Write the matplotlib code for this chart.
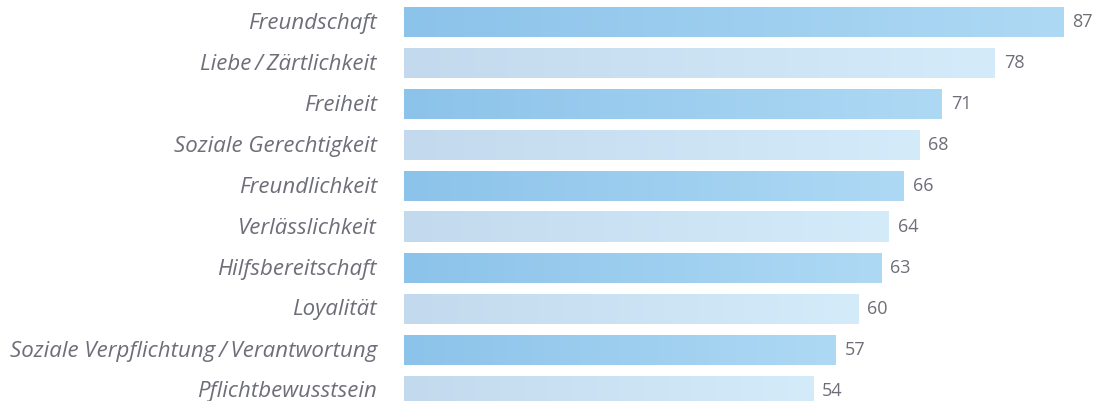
import numpy as np
import matplotlib
from matplotlib import pyplot as plt
from matplotlib.colors import LinearSegmentedColormap

labels = ['Freundschaft', 'Liebe\u2009/\u2009Zärtlichkeit', 'Freiheit', 'Soziale Gerechtigkeit',
          'Freundlichkeit', 'Verlässlichkeit', 'Hilfsbereitschaft', 'Loyalität',
          'Soziale Verpflichtung\u2009/\u2009Verantwortung', 'Pflichtbewusstsein']
values = [87, 78, 71, 68, 66, 64, 63, 60, 57, 54]

text_color = '#6d6e78'
dark = LinearSegmentedColormap.from_list('dark', ['#8cc3ea', '#aed9f4'])
light = LinearSegmentedColormap.from_list('light', ['#c3daee', '#d4ebfa'])

matplotlib.rc('font', family=['Open Sans', 'DejaVu Sans'])

fig = plt.figure(figsize=(11.02, 4.01), dpi=100)
ax = fig.add_axes([404 / 1102, 0, 1 - 404 / 1102, 1])

# one gradient image per bar, alternating dark / light rows
h = 30 / 41
grad = np.linspace(0, 1, 256).reshape(1, -1)
for i, v in enumerate(values):
    cmap = dark if i % 2 == 0 else light
    ax.imshow(grad, cmap=cmap, aspect='auto', interpolation='bilinear',
              extent=[0, v, i + h / 2, i - h / 2], zorder=2)
    ax.annotate(str(v), (v, i), xytext=(9, 0), textcoords='offset pixels',
                va='center', ha='left', fontsize=13, color=text_color)
    ax.annotate(labels[i], (0, i), xytext=(-27, -1), textcoords='offset pixels',
                va='center', ha='right', fontsize=16, style='italic',
                color=text_color, annotation_clip=False)

ax.set_xlim(0, (1102 - 404) / 7.575)
ax.set_ylim((401 - 22) / 41, -22 / 41)
ax.axis('off')

plt.savefig('out.png', dpi=100)
